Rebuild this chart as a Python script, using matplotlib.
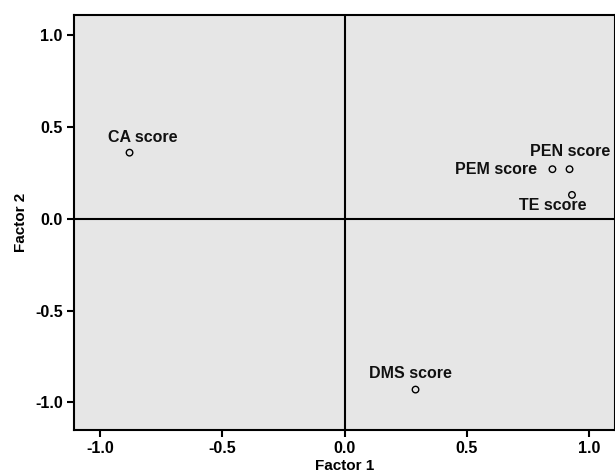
import matplotlib.pyplot as plt

names = ["CA score", "PEM score", "PEN score", "TE score", "DMS score"]
factor1 = [-0.88, 0.85, 0.92, 0.93, 0.29]
factor2 = [0.36, 0.27, 0.27, 0.13, -0.93]
# label offsets in pixels (dx, dy) and horizontal alignment
label_pos = {
    "CA score": (13, 15, "center"),
    "PEM score": (-15, 0, "right"),
    "PEN score": (-40, 18, "left"),
    "TE score": (-53, -11, "left"),
    "DMS score": (-5, 16, "center"),
}

plt.rcParams["font.family"] = ["Liberation Sans", "DejaVu Sans"]

fig = plt.figure(figsize=(6.15, 4.72), dpi=100)
ax = fig.add_axes([0.120, 0.089, 0.880, 0.879])
ax.set_facecolor("#e6e6e6")

ax.axhline(0, color="black", lw=1.5, zorder=1)
ax.axvline(0, color="black", lw=1.5, zorder=1)

ax.scatter(factor1, factor2, s=22, facecolors="none", edgecolors="black", linewidths=1.0, zorder=3)
for n, x, y in zip(names, factor1, factor2):
    dx, dy, ha = label_pos[n]
    ax.annotate(n, (x, y), xytext=(dx, dy), textcoords="offset pixels",
                ha=ha, va="center", fontsize=11.5, fontweight="bold", color="#111111")

ax.set_xlim(-1.108, 1.106)
ax.set_ylim(-1.15, 1.109)
ax.set_xticks([-1.0, -0.5, 0.0, 0.5, 1.0])
ax.set_yticks([-1.0, -0.5, 0.0, 0.5, 1.0])
ax.set_xticklabels(["-1.0", "-0.5", "0.0", "0.5", "1.0"])
ax.set_yticklabels(["-1.0", "-0.5", "0.0", "0.5", "1.0"])
ax.tick_params(direction="out", length=5, width=1.5, labelsize=11.5, pad=3)
for lab in ax.get_xticklabels() + ax.get_yticklabels():
    lab.set_fontweight("bold")
for s in ax.spines.values():
    s.set_linewidth(1.5)

ax.set_xlabel("Factor 1", fontsize=11, fontweight="bold", labelpad=2)
ax.set_ylabel("Factor 2", fontsize=11, fontweight="bold", labelpad=5)

fig.savefig("out.png", dpi=100)
